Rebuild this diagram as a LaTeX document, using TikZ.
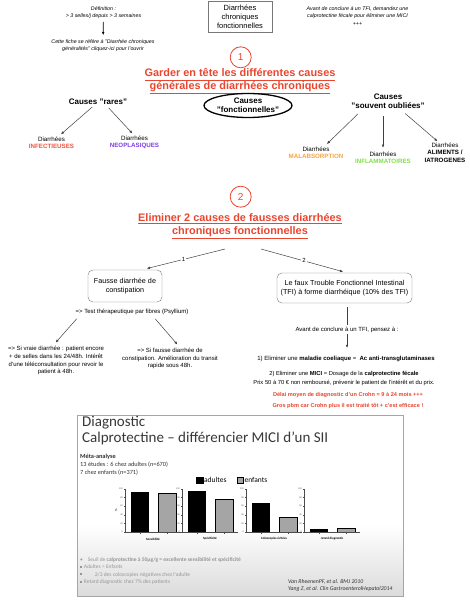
\documentclass[tikz,border=0pt]{standalone}
\usepackage{fontspec}
\setmainfont{Liberation Sans}
\newfontfamily\slidefont{Carlito}
\usetikzlibrary{arrows.meta,shapes.geometric}

\definecolor{titlered}{RGB}{233,69,47}
\definecolor{infred}{RGB}{240,84,60}
\definecolor{neopurple}{RGB}{124,62,228}
\definecolor{malorange}{RGB}{246,164,66}
\definecolor{infgreen}{RGB}{128,222,72}
\definecolor{boxgray}{RGB}{120,120,120}
\definecolor{slidegray}{RGB}{150,150,150}
\definecolor{bargray}{RGB}{165,165,165}

\tikzset{
  txt/.style={inner sep=0pt, align=center},
  note/.style={txt, font=\fontsize{5.3}{7.2}\selectfont\itshape},
  title/.style={txt, text=titlered, font=\fontsize{10.9}{13.3}\selectfont\bfseries},
  num/.style={circle, draw=titlered, line width=0.8pt, minimum size=21pt, inner sep=0pt, text=titlered, font=\fontsize{10}{12}\selectfont},
  cause/.style={txt, font=\fontsize{8}{9}\selectfont\bfseries},
  kind/.style={txt, font=\fontsize{6.2}{7.4}\selectfont},
  box/.style={draw=boxgray, rounded corners=5pt, inner sep=0pt, align=center, font=\fontsize{7.2}{9.3}\selectfont},
  body/.style={txt, font=\fontsize{6}{7.9}\selectfont},
  arr/.style={->, draw=black!75, line width=0.5pt},
  slide/.style={anchor=west, inner sep=0pt, align=left},
}
\newcommand{\puce}{\rule[1pt]{1.7pt}{1.7pt}}

\begin{document}
\begin{tikzpicture}[x=1pt, y=1pt, >={Latex[length=3.2pt,width=2.6pt]}]
\useasboundingbox (0,0) rectangle (469,-600);

\node[note] (def) at (103.5,-12.5) {Définition :\\> 3 selles/j depuis > 3 semaines};
\node[note] (fiche) at (103,-45.5) {Cette fiche se réfère à "Diarrhée chroniques\\généralités" cliquez-ici pour l'ouvrir};
\node[draw=boxgray, line width=0.6pt, align=center, minimum width=64pt, minimum height=31pt, inner sep=0pt, font=\fontsize{7.5}{9.2}\selectfont] (fonct) at (240,-16.5) {Diarrhées\\chroniques\\fonctionnelles};
\node[note] (avant) at (357.5,-16) {Avant de conclure à un TFI, demandez une\\calprotectine fécale pour éliminer une MICI\\+++};
\draw[arr, draw=black, line width=0.7pt, shorten <=3pt, shorten >=4pt] (def) -- (fiche);

\node[num] (un) at (240.7,-57.3) {1};
\node[title] (garder) at (240,-81) {\underline{Garder en tête les différentes causes\vphantom{g}}\\\underline{générales de diarrhées chroniques}};

\node[cause] (rares) at (98,-102) {Causes "rares"};
\node[ellipse, draw, line width=1.3pt, minimum width=80pt, minimum height=24pt, inner sep=0pt, align=center, font=\fontsize{8}{9}\selectfont\bfseries] (fonctio) at (248,-105.5) {Causes\\"fonctionnelles"};
\node[cause] (oubliees) at (388,-101.5) {Causes\\"souvent oubliées"};

\node[kind] (infect) at (51.5,-142.5) {Diarrhées\\\textcolor{infred}{\bfseries INFECTIEUSES}};
\node[kind] (neo) at (134.5,-142.5) {Diarrhées\\\textcolor{neopurple}{\bfseries NEOPLASIQUES}};
\node[kind] (malab) at (316,-153) {Diarrhées\\\textcolor{malorange}{\bfseries MALABSORPTION}};
\node[kind] (inflam) at (383,-158) {Diarrhées\\\textcolor{infgreen}{\bfseries INFLAMMATOIRES}};
\node[kind] (alim) at (445,-152.5) {Diarrhées\\\textbf{ALIMENTS /}\\\textbf{IATROGENES}};

\draw[arr, shorten <=3pt, shorten >=3pt] (rares) -- (infect);
\draw[arr, shorten <=4pt, shorten >=3pt] ([xshift=8pt]rares.south) -- (neo.north);
\draw[arr, shorten <=7pt, shorten >=4pt] ([xshift=-25pt]oubliees.south) -- ([xshift=8pt]malab.north);
\draw[arr, shorten <=7pt, shorten >=4pt] (inflam.north |- oubliees.south) -- (inflam.north);
\draw[arr, shorten <=7pt, shorten >=2pt] ([xshift=12pt]oubliees.south) -- ([xshift=-6pt]alim.north);

\node[num] (deux) at (240.7,-196.7) {2};
\node[title] (elim) at (240,-226) {\underline{Eliminer 2 causes de fausses diarrhées}\\\underline{chroniques fonctionnelles}};

\coordinate (s1) at (225,-249);
\coordinate (s2) at (261,-249);
\node[box, minimum width=74pt, minimum height=32pt] (fausse) at (125,-286) {Fausse diarrhée de\\constipation};
\node[box, minimum width=135pt, minimum height=30pt] (tfi) at (344.5,-288) {Le faux Trouble Fonctionnel Intestinal\\(TFI) à forme diarrhéique (10\% des TFI)};
\draw[arr, shorten >=5pt] (s1) -- node[fill=white, inner sep=1pt, font=\fontsize{6}{7}\selectfont] (lab1) {1} ([xshift=17pt]fausse.north);
\draw[arr, shorten >=4pt] (s2) -- node[fill=white, inner sep=1pt, font=\fontsize{6}{7}\selectfont] (lab2) {2} ([xshift=2.5pt]tfi.north);

\node[body] (test) at (132,-312) {=> Test thérapeutique par fibres (Psyllium)};
\node[body] (vraie) at (56,-360.5) {=> Si vraie diarrhée : patient encore\\+ de selles dans les 24/48h. Intérêt\\d'une téléconsultation pour revoir le\\patient à 48h.};
\node[body] (faussedia) at (170,-358.5) {=> Si fausse diarrhée de\\constipation. Amélioration du transit\\rapide sous 48h.};
\draw[arr, shorten <=5pt, shorten >=4pt] ([xshift=-52pt]test.south) -- ([xshift=-3pt]vraie.north);
\draw[arr, shorten <=5pt, shorten >=4pt] ([xshift=20pt]test.south) -- ([xshift=10pt]faussedia.north);

\node[body] (coel) at (346,-359) {1) Eliminer une \textbf{maladie coeliaque} =\ \ \textbf{Ac anti-transglutaminases}};
\draw[arr, shorten <=4pt, shorten >=8pt] ([xshift=2.5pt]tfi.south) -- node[body, fill=white, inner sep=2pt] (pensez) {Avant de conclure à un TFI, pensez à :} ([xshift=2.5pt]tfi.south |- coel.north);
\node[txt, font=\fontsize{5.8}{8.6}\selectfont] (mici) at (344,-378.5) {2) Eliminer une \textbf{MICI} = Dosage de la \textbf{calprotectine fécale}\\Prix 50 à 70 € non remboursé, prévenir le patient de l'intérêt et du prix.};
\node[txt, text=titlered, font=\fontsize{5.6}{11}\selectfont\bfseries] (delai) at (348,-400.5) {Délai moyen de diagnostic d'un Crohn = 9 à 24 mois +++\\Gros pbm car Crohn plus il est traité tôt + c'est efficace !};

\fill[white] (77,-415) rectangle (403,-596);
\shade[top color=white, bottom color=black!14] (77,-525) rectangle (403,-596);
\draw[black!35, line width=0.8pt] (77,-415) rectangle (403,-596);

\node[slide, text=black!78, font=\slidefont\fontsize{15}{16}\selectfont] (diag) at (82,-431) {Diagnostic\\Calprotectine – différencier MICI d’un SII};
\node[slide, text=black!80, font=\slidefont\fontsize{6.3}{7.8}\selectfont] (meta) at (80,-465) {\textbf{Méta-analyse}\\13 études : 6 chez adultes (n=670)\\7 chez enfants (n=371)};
\node[draw, fill=black, minimum size=6.5pt, inner sep=0pt] (kadu) at (199.5,-480) {};
\node[slide, font=\slidefont\fontsize{7.5}{8}\selectfont] (ladu) at ([xshift=1pt]kadu.east) {adultes};
\node[draw, fill=bargray, line width=0.8pt, minimum size=6pt, inner sep=0pt] (kenf) at (240,-480) {};
\node[slide, font=\slidefont\fontsize{7.5}{8}\selectfont] (lenf) at ([xshift=1pt]kenf.east) {enfants};

\foreach \cx/\va/\vb/\lab in {125/93/91/Sensibilité, 182/95/76/Spécificité, 246/67/35/Coloscopies évitées, 304/6/8/retard diagnostic} {
  \draw[black!70, line width=0.3pt] (\cx,-532) -- (\cx,-489);
  \foreach \t in {0,20,...,100}
    \draw[black!70, line width=0.3pt] (\cx,{-532+0.43*\t}) -- ++(-1.5,0) node[left, inner sep=0.5pt, font=\fontsize{2.2}{2.5}\selectfont] (tk\cx-\t) {\t};
  \fill[black] (\cx+6,-532) rectangle (\cx+24,{-532+0.43*\va});
  \filldraw[fill=bargray, draw=black, line width=0.4pt] (\cx+33,-532) rectangle (\cx+51,{-532+0.43*\vb});
  \draw[black!70, line width=0.3pt] (\cx,-532) -- (\cx+56,-532);
  \draw[black!70, line width=0.3pt] (\cx+15,-532) -- ++(0,-1.5) (\cx+42,-532) -- ++(0,-1.5);
  \node[font=\slidefont\bfseries\fontsize{3.2}{4}\selectfont] (lb\cx) at (\cx+28,-539) {\lab};
}
\node[rotate=90, font=\fontsize{3}{4}\selectfont] (pct) at (116,-510) {\%};

\node[slide, text=slidegray, font=\slidefont\fontsize{5.5}{7.4}\selectfont] (puces) at (80,-571) {•\hspace{5pt}Seuil de \textbf{calprotectine à 50µg/g = excellente sensibilité et spécificité}\\\puce\hspace{2pt}Adultes > Enfants\\\puce\hspace{13pt}2/3 des coloscopies négatives chez l'adulte\\\puce\hspace{2pt}Retard diagnostic chez 7\% des patients};
\node[slide, text=black!80, font=\slidefont\itshape\fontsize{5.8}{7.3}\selectfont] (refs) at (288,-585.5) {Van RheenenPF, et al. BMJ 2010\\Yang Z, et al. Clin GastroenterolHepatol2014};
\end{tikzpicture}
\end{document}
